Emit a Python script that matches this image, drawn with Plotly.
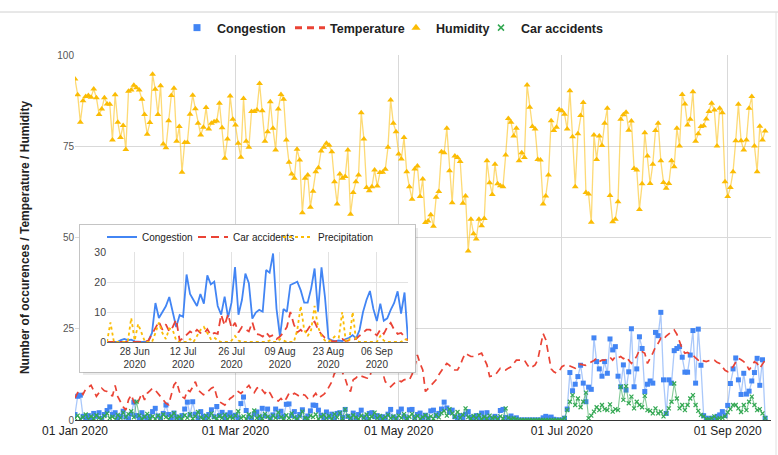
import pandas as pd
import plotly.graph_objects as go

# ---------------- data ----------------
start_date = "2020-01-01"
inset_start = "2020-06-20"

congestion = [
    1.5, 6.5, 6.8, 1.0, 0.5, 1.2, 0.3, 1.8, 1.0, 2.0,
    0.4, 1.5, 2.6, 3.6, 1.5, 2.0, 0.6, 1.0, 2.4, 0.8,
    0.3, 1.6, 4.9, 1.2, 0.5, 2.0, 0.8, 0.4, 1.0, 2.3,
    3.2, 1.1, 0.5, 1.8, 4.1, 1.5, 0.6, 1.9, 0.8, 0.3,
    1.2, 3.0, 4.9, 1.4, 5.0, 1.6, 0.5, 2.3, 1.0, 0.4,
    1.5, 2.8, 0.9, 3.7, 1.2, 2.1, 0.5, 1.4, 2.0, 1.0,
    1.3, 0.6, 4.5, 6.3, 2.6, 0.8, 0.3, 1.6, 2.2, 0.7,
    3.2, 1.1, 3.0, 0.5, 1.4, 3.0, 0.9, 2.4, 1.0, 4.3,
    4.4, 1.2, 2.3, 0.6, 1.5, 2.8, 0.4, 1.1, 2.5, 4.1,
    4.0, 2.7, 1.3, 0.6, 2.2, 0.9, 1.6, 0.4, 1.8, 2.0,
    0.7, 2.9, 1.0, 0.5, 1.9, 0.6, 1.5, 2.7, 0.8, 0.3,
    1.8, 2.0, 0.9, 1.2, 0.5, 0.9, 0.4, 1.6, 2.9, 0.8,
    0.5, 2.2, 3.0, 1.0, 0.4, 2.8, 2.9, 0.7, 1.5, 1.9,
    0.6, 1.3, 0.4, 2.5, 2.7, 1.2, 1.8, 3.0, 4.9, 3.3,
    2.1, 2.7, 0.9, 0.5, 1.2, 0.4, 1.6, 2.3, 0.8, 0.4,
    1.2, 0.5, 1.9, 0.6, 2.0, 0.3, 0.5, 1.0, 0.4, 2.6,
    2.9, 0.7, 0.3, 1.1, 0.4, 0.6,
    0, 0, 0, 0, 0, 0, 0, 0, 0, 0.6, 1.0, 0.6, 0.8, 0.2, 0, 0, 0,
    0.5, 3.0, 13.0, 8.0, 9.8, 11.9, 15.0, 10.1, 5.0, 9.0,
    8.4, 22.5, 16.0, 14.0, 12.0, 16.0, 12.8, 22.2, 19.2, 20.1,
    12.0, 9.1, 15.1, 8.2, 13.2, 25.0, 9.1, 14.0, 22.8, 19.6,
    7.8, 9.8, 10.7, 10.1, 24.0, 23.1, 29.5, 11.0, 1.8, 11.0,
    10.1, 19.0, 19.6, 20.1, 17.2, 13.1, 13.1, 17.8, 24.5, 10.1,
    24.9, 15.0, 1.2, 0.5, 0.3, 0.5, 0.3, 1.0, 1.4, 2.3,
    1.2, 4.0, 10.0, 14.0, 17.0, 11.0, 7.0, 12.8, 7.1, 7.9,
    10.7, 13.0, 16.9, 9.5, 16.5, 0.5,
]

temperature = [
    6, 7.5, 8, 7, 8.5, 9, 9.5, 8, 6.5, 7.5, 8.7, 8, 7.8, 7.3, 6.5, 9.5,
    6.4, 5, 3.6, 2.7, 5.5, 6.9, 5, 4, 5.9, 7.3, 5.5, 7.3, 8, 8.7, 8.2,
    7.3, 6.5, 5.5, 4.6, 4.2, 7.3, 9.6, 10.5, 7.8, 6.4, 5.9, 8.2, 7.8, 9, 10.5,
    8.2, 7.5, 6.9, 7.3, 8, 8.7, 9.1, 6.4, 5, 4.6, 4.1, 5, 5.9, 6.4, 7.3,
    7.8, 7.3, 8, 8.7, 9.5, 8.2, 7.5, 8.7, 9.1, 8.2, 7.3, 8.2, 7.3, 5.9, 5.5,
    5.2, 5.9, 5, 5.9, 7.3, 6.8, 7.3, 6.9, 6.4, 7, 6.8, 5.9, 6.4, 6.4, 7.3,
    6, 6.5, 7, 7.8, 9, 10.5, 12.8, 13.5, 14.2, 13,
    11.4, 9, 7.8, 11, 11.5, 12.3, 12, 11.9, 11.5, 11.4,
    14, 16.4, 16.2, 16, 13, 10.5, 9.8, 9.1, 9.8, 10.5,
    10.8, 10.5, 11.0, 11.2, 11.0, 12.5, 14.6, 17.8, 15.5, 13.7,
    7.8, 8.6, 9.6, 10.2, 11.0, 12.4, 13.7, 14.6, 15.5, 15.0,
    14.0, 13.7, 13.7, 15.0, 16.9, 18.3, 17.8, 17.4, 17.4, 17.8,
    18.0, 18.3, 16.5, 15.1, 11.9, 12.0, 12.3, 13.2, 14.2, 14.0,
    13.7, 14.2, 14.6, 15.5, 16.4, 16.4, 16.5, 16.4, 15.2, 14.2,
    14.6, 15.1, 16.5, 20.1, 23.7, 22.0, 18.0, 14.0, 13.2, 12.8,
    13.4,
    14.6, 15.0, 15.1, 14.8, 14.6, 14.2, 15.1, 15.3, 15.1, 15.0,
    15.5, 15.8, 16.3, 16.9, 16.0, 16.4, 16.4, 16.8, 17.2, 16.4,
    17.4, 17.0, 17.4, 16.8, 17.3, 16.4, 15.5, 16.4, 17.5, 19.2,
    18.8, 18.3, 15.5, 16.8, 18.3, 20.0, 21.0, 22.4, 22.0, 23.0,
    23.7, 24.2, 24.7, 23.5, 21.5, 19.5, 18.3, 18.5, 18.0, 17.8,
    17.0, 16.4, 16.8, 16.2, 16.0, 16.3, 16.5, 16.4, 15.8, 15.5,
    14.6, 13.6, 13.2, 14.0, 14.6, 15.8, 16.9, 16.5, 16.0, 15.2,
    13.7, 14.8, 16.0, 15.5, 14.2, 15.3, 16.4,
]

humidity = [
    93.4, 89.1, 81.6, 87.5, 88.6, 88.9, 88.4, 90.7, 88.3,
    83.7, 85.2, 88.3, 86.6, 86.5, 76.7, 89.1, 81.6, 77.4, 80.7,
    74.1, 90.1, 90.4, 91.7, 91.0, 90.4, 87.9, 83.7, 78.3, 81.5,
    94.7, 90.6, 83.7, 91.6, 75.6, 74.6, 82.0, 88.9, 90.9, 76.4,
    80.4, 67.9, 76.0, 76.0, 83.8, 89.0, 85.3, 81.3, 78.1, 80.2,
    85.6, 79.7, 81.3, 81.7, 81.9, 86.8, 80.1, 71.7, 77.0, 88.8,
    82.4, 80.8, 75.8, 72.0, 88.1, 76.4, 74.7, 84.5, 84.5, 84.9,
    92.2, 84.7, 76.4, 79.0, 87.2, 79.9, 74.0, 85.2, 89.2, 87.9,
    76.7, 70.6, 67.4, 66.2, 74.2, 71.2, 56.8, 66.2, 67.1, 58.3,
    62.7, 68.0, 69.1, 73.7, 74.7, 75.8, 75.3, 73.5, 65.3, 59.2,
    67.4, 66.2, 66.7, 74.0, 56.4, 62.3, 65.3, 67.1, 84.2, 77.0,
    63.7, 62.8, 63.9, 68.5, 64.1, 67.8, 67.9, 68.7, 74.7, 87.7,
    81.3, 79.0,
    72.9, 71.5, 77.4, 68.0, 63.9, 60.5, 68.8, 69.6, 61.2, 66.0,
    54.1, 54.5, 56.2, 53.1, 61.0, 62.6, 73.5, 73.2, 79.9, 68.3,
    59.5, 72.3, 71.9, 70.8, 59.4, 61.4, 46.3, 55.0, 51.0, 49.6,
    55.0, 53.2, 55.2, 71.0, 65.0, 61.8, 70.1, 64.7, 64.2, 63.9,
    72.6, 82.6, 81.6, 77.8, 79.9, 71.0, 73.2, 71.9, 91.8, 85.7,
    80.4, 79.7, 71.4, 71.2, 59.2, 61.4, 67.1, 82.0, 79.3, 80.2,
    85.1, 84.7, 83.8, 79.7, 90.2, 77.6, 63.9, 78.4, 83.4, 87.0,
    62.3, 61.9, 54.2, 78.1, 71.4, 77.8, 75.2, 81.3, 85.4, 61.5,
    54.3, 55.0, 59.8, 82.4, 83.6, 84.3, 79.4, 81.9, 68.9, 68.5,
    57.7, 64.7, 78.7, 72.3, 64.8, 70.1, 79.3, 81.3, 71.0, 65.1,
    63.5, 64.8, 71.0, 69.4, 79.9, 75.1, 89.2, 86.6, 80.8, 82.4,
    89.9, 76.4, 78.4, 80.4, 80.6, 82.5, 84.5, 86.8, 84.9, 75.1,
    85.4, 84.2, 65.3, 61.2, 63.7, 68.0, 76.5, 86.5, 76.5, 74.0,
    76.7, 85.4, 88.6, 75.1, 68.0, 80.5, 76.7, 79.2,
]

car_accidents = [
    0.5, 1.2, 0.3, 0.8, 1.5, 0.2, 1.0, 0.4, 1.3, 0.6,
    0.2, 1.1, 1.8, 0.5, 0.9, 0.2, 1.4, 0.6, 2.0, 0.8,
    1.6, 2.4, 0.7, 5.0, 1.2, 0.3, 0.9, 1.7, 0.4, 1.0,
    0.3, 1.2, 0.6, 1.5, 0.8, 0.2, 1.1, 1.9, 0.5, 0.9,
    0.3, 1.3, 0.6, 1.6, 0.4, 1.0, 2.2, 0.7, 0.3, 1.2,
    0.5, 1.8, 0.8, 0.4, 1.1, 0.6, 1.4, 0.3, 0.9, 0.5,
    1.2, 2.4, 0.6, 1.0, 0.3, 1.5, 0.8, 2.6, 0.5, 1.1,
    0.4, 1.7, 0.9, 0.3, 1.2, 0.6, 2.1, 0.8, 0.4, 1.3,
    0.5, 1.8, 0.7, 0.3, 1.0, 2.3, 0.6, 0.4, 1.2, 0.8,
    1.5, 0.3, 0.9, 1.4, 0.5, 1.1, 0.3, 1.6, 0.7, 1.9,
    0.4, 2.9, 1.0, 0.5, 1.3, 0.7, 0.3, 1.2, 0.6, 1.5,
    0.4, 0.9, 2.0, 0.5, 1.1, 0.3, 0.8, 1.4, 0.5, 1.0,
    0.3, 1.2, 0.6, 1.6, 0.4, 0.9, 1.7, 0.5, 1.1, 0.3,
    0.8, 1.3, 0.5, 1.0, 0.4, 1.4, 0.7, 1.9, 2.5, 1.2,
    3.0, 1.8, 0.9, 2.2, 0.6, 1.4, 3.2, 0.8, 0.4, 1.1,
    0.5, 1.3, 0.3, 0.9, 0.4, 1.2, 0.5, 0.8, 0.3, 1.0,
    0.4, 3.2, 0.6, 0.3, 0.5, 0.2,
    0, 0, 0, 0, 0, 0, 0, 0, 0, 0, 0, 0, 0, 0, 0, 0, 0,
    0.5, 2.7, 5.0, 6.8, 4.1, 5.9, 3.5, 5.0, 7.5, 0.5,
    1.2, 2.3, 3.5, 2.7, 4.1, 3.0, 2.7, 4.3, 2.3, 3.0,
    2.7, 9.1, 5.5, 9.3, 4.6, 6.4, 3.2, 5.0, 4.1, 3.5,
    6.6, 2.7, 2.5, 1.8, 3.2, 1.8, 2.3, 1.0, 1.8, 3.2,
    5.0, 10.0, 5.9, 3.2, 4.1, 2.7, 4.1, 5.9, 6.8, 4.1,
    2.5, 1.4, 1.0, 0.3, 0.2, 0.5, 1.0, 0.3, 0.5, 0.6,
    1.0, 2.1, 3.0, 4.1, 4.1, 3.2, 2.2, 4.1, 2.7, 5.0,
    6.4, 4.1, 2.7, 3.0, 1.8, 0.5,
]

precipitation = [
    0, 6.5, 0, 0, 0, 0, 0, 8.0, 0.5, 6.0,
    3.0, 0, 0, 0, 3.0, 6.5, 3.0, 1.0, 4.5, 4.0,
    0.5, 0, 0, 0, 1.0, 0, 2.0, 4.0, 5.0, 3.0,
    1.0, 1.5, 0.5, 0, 0, 0, 0.5, 2.0, 0.5, 0,
    0, 0, 0, 0, 0, 0, 0, 0.5, 0, 0,
    1.0, 0.5, 0, 0, 0, 4.0, 12.0, 4.0, 2.0, 4.0,
    12.0, 5.0, 2.0, 0.5, 0, 1.0, 2.0, 1.5, 10.0, 0.5,
    0, 10.0, 0.5, 0, 0, 0, 0, 0, 0, 2.0,
    0.5, 0, 0, 0, 0, 0, 1.0, 0.5,
]

main_tick_format = "%d %b %Y"
inset_tick_format = "%d %b<br>%Y"

n = len(humidity)
assert len(congestion) == n and len(temperature) == n and len(car_accidents) == n
dates = pd.date_range(start_date, periods=n, freq="D")
inset_dates = pd.date_range(inset_start, periods=len(precipitation), freq="D")
i0 = list(dates).index(inset_dates[0])

# ---------------- layout geometry (pixels) ----------------
W, H = 778, 455
L, R, T, B = 75, 7, 55, 35
PW, PH = W - L - R, H - T - B
DAY_PX = 2.675


def fx(px):
    return (px - L) / PW


def fy(py):
    return (H - B - py) / PH


FONT = "Arial, Liberation Sans, sans-serif"
BLUE, RED, YEL, GRN = "#4285F4", "#EA4335", "#FBBC04", "#34A853"

fig = go.Figure()

# ---- main series ----
fig.add_trace(go.Scatter(x=dates, y=congestion, mode="lines+markers",
                         line=dict(color="rgba(66,133,244,0.45)", width=1.3),
                         marker=dict(symbol="square", size=5, color=BLUE),
                         showlegend=False, hoverinfo="skip"))
fig.add_trace(go.Scatter(x=dates, y=temperature, mode="lines",
                         line=dict(color=RED, width=1.7, dash="7px,5px"),
                         showlegend=False, hoverinfo="skip"))
fig.add_trace(go.Scatter(x=dates, y=humidity, mode="lines+markers",
                         line=dict(color="rgba(251,188,4,0.55)", width=1.3),
                         marker=dict(symbol="triangle-up", size=6, color=YEL),
                         showlegend=False, hoverinfo="skip"))
fig.add_trace(go.Scatter(x=dates, y=car_accidents, mode="lines+markers",
                         line=dict(color="rgba(52,168,83,0.6)", width=1.1),
                         marker=dict(symbol="x-thin", size=4, color=GRN,
                                     line=dict(color=GRN, width=1.2)),
                         showlegend=False, hoverinfo="skip"))

# ---- main legend entries (one legend per entry for exact spacing) ----
fig.add_trace(go.Scatter(x=[None], y=[None], mode="markers", name="Congestion", legend="legend",
                         marker=dict(symbol="square", size=7, color=BLUE)))
fig.add_trace(go.Scatter(x=[None], y=[None], mode="lines", name="Temperature", legend="legend2",
                         line=dict(color=RED, width=3, dash="7px,5px")))
fig.add_trace(go.Scatter(x=[None], y=[None], mode="markers", name="Humidity", legend="legend3",
                         marker=dict(symbol="triangle-up", size=8, color=YEL)))
fig.add_trace(go.Scatter(x=[None], y=[None], mode="markers", name="Car accidents", legend="legend4",
                         marker=dict(symbol="x-thin", size=6, color=GRN,
                                     line=dict(color=GRN, width=1.5))))

# ---- inset box (empty subplot giving an opaque background) ----
fig.add_trace(go.Scatter(x=[None], y=[None], xaxis="x2", yaxis="y2",
                         showlegend=False, hoverinfo="skip"))

# ---- inset series ----
fig.add_trace(go.Scatter(x=inset_dates, y=congestion[i0:], mode="lines", name="Congestion",
                         line=dict(color=BLUE, width=1.8), xaxis="x3", yaxis="y3",
                         legend="legend5", hoverinfo="skip"))
fig.add_trace(go.Scatter(x=inset_dates, y=car_accidents[i0:], mode="lines", name="Car accidents",
                         line=dict(color=RED, width=1.8, dash="8px,5px"), xaxis="x3", yaxis="y3",
                         legend="legend6", hoverinfo="skip"))
fig.add_trace(go.Scatter(x=inset_dates, y=precipitation, mode="lines", name="Precipitation",
                         line=dict(color=YEL, width=1.8, dash="dot"), xaxis="x3", yaxis="y3",
                         legend="legend7", hoverinfo="skip"))

x_end = dates[0] + pd.Timedelta(days=PW / DAY_PX)


def leg(px_left, py, size, weight="normal"):
    return dict(orientation="h", x=fx(px_left), y=fy(py), xanchor="left", yanchor="middle",
                font=dict(size=size, color="#222", weight=weight), itemwidth=30,
                bgcolor="rgba(0,0,0,0)", borderwidth=0)


fig.update_layout(
    width=W, height=H, autosize=False,
    margin=dict(l=L, r=R, t=T, b=B, pad=0),
    paper_bgcolor="white", plot_bgcolor="white",
    font=dict(family=FONT, color="#222"),
    xaxis=dict(domain=[0, 1], type="date", range=[dates[0], x_end],
               tick0=start_date, dtick="M2", tickformat=main_tick_format,
               showgrid=True, gridcolor="#d9d9d9", zeroline=False,
               showline=True, linecolor="#333", linewidth=1, ticks="",
               tickfont=dict(size=12, color="#222")),
    yaxis=dict(domain=[0, 1], range=[0, 100], tickvals=[0, 25, 50, 75, 100],
               showgrid=True, gridcolor="#d9d9d9", zeroline=False, ticks="",
               tickfont=dict(size=10, color="#555"),
               title=dict(text="Number of occurences / Temperature / Humidity",
                          font=dict(size=12, color="#222", weight="bold"), standoff=25)),
    xaxis2=dict(domain=[fx(80), fx(415)], anchor="y2", range=[0, 1],
                showgrid=False, zeroline=False, showticklabels=False, ticks="",
                showline=True, mirror=True, linecolor="#c4c4c4", linewidth=1),
    yaxis2=dict(domain=[fy(372), fy(225)], anchor="x2", range=[0, 1],
                showgrid=False, zeroline=False, showticklabels=False, ticks="",
                showline=True, mirror=True, linecolor="#c4c4c4", linewidth=1),
    xaxis3=dict(domain=[fx(107), fx(408)], anchor="y3", type="date",
                range=[inset_dates[0], inset_dates[-1]],
                tick0="2020-06-28", dtick=14 * 86400000, tickformat=inset_tick_format,
                showgrid=True, gridcolor="#e2e2e2", zeroline=False, ticks="",
                showline=True, linecolor="#666", linewidth=1,
                tickfont=dict(size=10, color="#333")),
    yaxis3=dict(domain=[fy(342), fy(252)], anchor="x3", range=[0, 30], dtick=10,
                showgrid=True, gridcolor="#e2e2e2", zeroline=False, ticks="",
                tickfont=dict(size=10.5, color="#444")),
    legend=leg(177, 28, 12.5, "bold"),
    legend2=leg(290, 28, 12.5, "bold"),
    legend3=leg(396, 28, 12.5, "bold"),
    legend4=leg(481, 28, 12.5, "bold"),
    legend5=leg(102, 237, 10),
    legend6=leg(193, 237, 10),
    legend7=leg(278, 237, 10),
    shapes=[
        dict(type="line", xref="paper", yref="paper", x0=fx(0), x1=fx(W), y0=fy(12), y1=fy(12),
             line=dict(color="#d0d0d0", width=1), layer="above"),
        dict(type="line", xref="paper", yref="paper", x0=fx(776), x1=fx(776), y0=fy(12), y1=fy(H),
             line=dict(color="#e0e0e0", width=1), layer="above"),
        dict(type="rect", xref="paper", yref="paper", x0=fx(415.5), x1=fx(418), y0=fy(375), y1=fy(228),
             fillcolor="rgba(0,0,0,0.08)", line=dict(width=0), layer="above"),
        dict(type="rect", xref="paper", yref="paper", x0=fx(83), x1=fx(415.5), y0=fy(375), y1=fy(372.5),
             fillcolor="rgba(0,0,0,0.08)", line=dict(width=0), layer="above"),
    ],
)

fig.write_html("out.html")
